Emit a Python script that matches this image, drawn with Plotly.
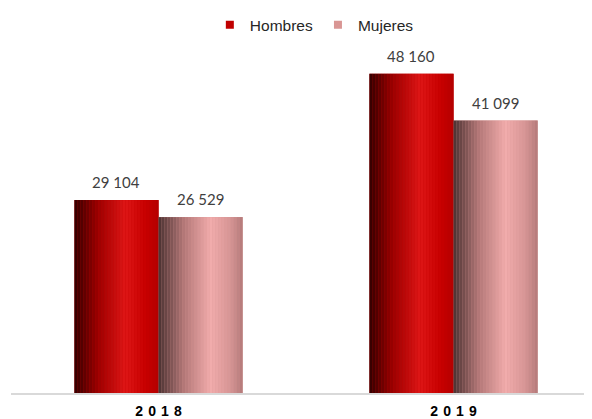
import plotly.graph_objects as go

categories = ["2018", "2019"]
series_names = ["Hombres", "Mujeres"]
hombres = [29104, 48160]
mujeres = [26529, 41099]

values = [hombres, mujeres]
legend_colors = ["#c00000", "#d99694"]
gradients = [
    [(0.0, (50, 0, 0)), (0.28, (155, 0, 0)), (0.6, (222, 22, 22)), (0.85, (200, 0, 0)), (1.0, (180, 0, 0))],
    [(0.0, (75, 50, 50)), (0.3, (178, 118, 118)), (0.62, (242, 172, 172)), (0.85, (215, 150, 150)), (1.0, (180, 122, 122))],
]

def interp(stops, t):
    for (p0, c0), (p1, c1) in zip(stops[:-1], stops[1:]):
        if p0 <= t <= p1:
            f = (t - p0) / (p1 - p0) if p1 > p0 else 0
            c = [round(a + (b - a) * f) for a, b in zip(c0, c1)]
            return "rgb(%d,%d,%d)" % tuple(c)
    return "rgb(%d,%d,%d)" % stops[-1][1]

xs = list(range(len(categories)))
bw = 0.285
N = 28

fig = go.Figure()
# legend entries
for s, name in enumerate(series_names):
    fig.add_trace(go.Scatter(
        x=[None], y=[None], mode="markers", name=name,
        marker=dict(symbol="square", size=8, color=legend_colors[s]),
    ))
annotations = []
for s, (name, vals) in enumerate(zip(series_names, values)):
    base_off = -bw + s * bw
    fig.add_trace(go.Bar(
        x=xs, y=vals, offset=base_off, width=bw, showlegend=False,
        marker=dict(color=legend_colors[s], line=dict(width=0)),
        hoverinfo="skip",
    ))
    for x, v in zip(xs, vals):
        annotations.append(dict(
            x=x + base_off + bw / 2, y=v, xref="x", yref="y",
            text=f"{v:,}".replace(",", " "), showarrow=False,
            yanchor="bottom", yshift=7,
            font=dict(family="Lato", size=15, color="#404040"),
        ))
for s, (name, vals) in enumerate(zip(series_names, values)):
    base_off = -bw + s * bw
    for k in range(N):
        t = (k + 0.5) / N
        fig.add_trace(go.Bar(
            x=xs, y=vals, offset=base_off + k * bw / N, width=bw / N * 1.04,
            marker=dict(color=interp(gradients[s], t), line=dict(width=0)),
            showlegend=False, hoverinfo="skip",
        ))

sep = " \u200a"
fig.update_layout(
    width=592, height=419,
    margin=dict(l=3, r=0, t=0, b=34),
    barmode="overlay",
    plot_bgcolor="white", paper_bgcolor="white",
    showlegend=True,
    legend=dict(orientation="h", x=0.515, xanchor="center", y=1.005, yanchor="top",
                font=dict(family="Liberation Sans", size=15.5, color="#262626"),
                itemwidth=30, traceorder="normal", tracegroupgap=0),
    hovermode=False,
    annotations=annotations,
)
fig.update_xaxes(
    range=[-0.5, -0.5 + 589 / 295], tickvals=xs,
    ticktext=["<b>" + sep.join(c) + "</b>" for c in categories],
    tickfont=dict(family="Liberation Sans", size=14, color="#000000"),
    ticklabelstandoff=4,
    showgrid=False, zeroline=False, showline=True, linecolor="#d9d9d9", linewidth=2,
    ticks="", fixedrange=True,
)
fig.update_yaxes(range=[0, 385 / 0.006665], visible=False, showgrid=False, zeroline=False)

fig.write_html("out.html")
